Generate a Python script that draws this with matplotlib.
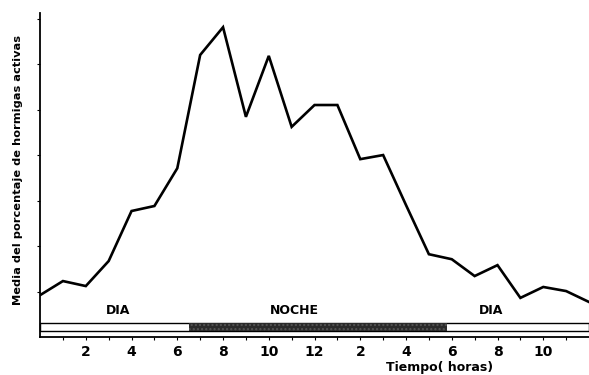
import matplotlib
matplotlib.use("Agg")
import matplotlib.pyplot as plt
from matplotlib.patches import Rectangle

# hours since start of record and mean % of active ants
hours = list(range(25))
active_pct = [9.2, 12.3, 11.2, 16.7, 27.7, 28.8, 37.1, 62.0, 68.1, 48.4, 61.8, 46.2, 51.0,
              51.0, 39.1, 40.0, 29.0, 18.2, 17.1, 13.4, 15.8, 8.6, 11.0, 10.1, 7.7]

tick_hours = [2, 4, 6, 8, 10, 12, 14, 16, 18, 20, 22]
tick_labels = ["2", "4", "6", "8", "10", "12", "2", "4", "6", "8", "10"]

night_start, night_end = 6.5, 17.8
period_labels = ["DIA", "NOCHE", "DIA"]
period_x = [3.4, 11.1, 19.7]

plt.rcParams["font.family"] = ["DejaVu Sans"]

fig = plt.figure(figsize=(5.89, 3.75), dpi=100)
ax = fig.add_axes([0.068, 0.1013, 0.932, 0.8637])

ax.plot(hours, active_pct, color="black", lw=1.9, solid_joinstyle="miter", zorder=3)

# day / night bar
bar_y, bar_h = 1.3, 1.8
ax.add_patch(Rectangle((0, bar_y), 24, bar_h, facecolor="white", edgecolor="black",
                       lw=1.0, clip_on=False, zorder=2))
ax.add_patch(Rectangle((night_start, bar_y), night_end - night_start, bar_h,
                       facecolor="#2b2b2b", edgecolor="#555555", hatch="....", lw=0,
                       zorder=2))
for lab, xp in zip(period_labels, period_x):
    ax.text(xp, 5.8, lab, ha="center", va="center", fontsize=9, fontweight="bold")

ax.set_xlim(0, 24)
ax.set_ylim(0, 71.2)
ax.spines["top"].set_visible(False)
ax.spines["right"].set_visible(False)
ax.spines["left"].set_linewidth(1.3)
ax.spines["bottom"].set_linewidth(1.3)

ax.set_xticks(tick_hours)
ax.set_xticklabels(tick_labels, fontsize=10, fontweight="bold")
ax.set_xticks(range(1, 24), minor=True)
ax.tick_params(axis="x", which="both", direction="out", length=2.5, width=0.8, pad=3)
ax.set_yticks(range(10, 71, 10))
ax.set_yticklabels([])
ax.tick_params(axis="y", direction="out", length=2, width=0.8)

fig.text(0.03, 0.547, "Media del porcentaje de hormigas activas", rotation=90,
         ha="center", va="center", fontsize=8.2, fontweight="bold")
fig.text(0.747, 0.021, "Tiempo( horas)", ha="center", va="center", fontsize=9,
         fontweight="bold")

fig.savefig("out.png", dpi=100)
